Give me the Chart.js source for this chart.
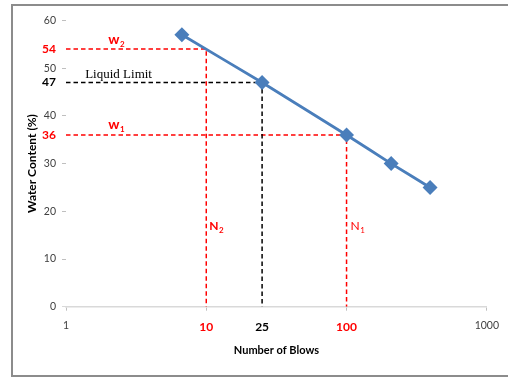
<!DOCTYPE html>
<html>
<head>
<meta charset="utf-8">
<script src="https://cdn.jsdelivr.net/npm/chart.js@4"></script>
<style>
  html, body { margin: 0; padding: 0; background: #fff; }
  #wrap { position: relative; width: 508px; height: 377px; }
  #frame {
    position: absolute; left: 11px; top: 4px; width: 497px; height: 373px;
    box-sizing: border-box;
    border-top: 2px solid #8c8c8c; border-left: 2px solid #8c8c8c; border-bottom: 2px solid #8c8c8c;
  }
  canvas { position: absolute; left: 0; top: 0; }
</style>
</head>
<body>
<div id="wrap">
  <div id="frame"></div>
  <canvas id="chart" width="508" height="377"></canvas>
</div>
<script>
// flow curve readings
const blows = [6.7, 25, 100, 208, 394];
const waterContent = [57, 47, 36, 30, 25];

const xTicks = [1, 10, 25, 100, 1000];
const yTicks = [0, 10, 20, 30, 36, 40, 47, 50, 54, 60];

// construction lines
const N2 = 10, W2 = 54;
const N_LL = 25, LL = 47;
const N1 = 100, W1 = 36;

const RED = '#ff0000';
const GREY_TXT = '#404040';

const plainFont = { family: 'Lato', size: 10.5 };
const boldFont = { family: 'Lato', size: 12, weight: 'bold' };

function tickVal(c) { return c && c.tick ? c.tick.value : null; }

function xTickStyle(v) {
  if (v === N2 || v === N1) return { color: RED, font: boldFont };
  if (v === N_LL) return { color: '#000', font: boldFont };
  return { color: GREY_TXT, font: plainFont };
}
function yTickStyle(v) {
  if (v === W2 || v === W1) return { color: RED, font: boldFont };
  if (v === LL) return { color: '#000', font: boldFont };
  return { color: GREY_TXT, font: plainFont };
}

function dashed(points, color) {
  return {
    data: points, showLine: true, borderColor: color, borderWidth: 1.5,
    borderDash: [4.5, 3], pointRadius: 0, tension: 0, order: 2
  };
}

// w1, w2, N1, N2 and "Liquid Limit" labels
const notes = {
  id: 'notes',
  afterDatasetsDraw(chart) {
    const { ctx, scales: { x, y } } = chart;
    ctx.save();
    ctx.textAlign = 'left';
    ctx.textBaseline = 'alphabetic';
    const withSub = (main, sub, px, py, color, bold, size) => {
      ctx.fillStyle = color;
      ctx.font = (bold ? 'bold ' : '') + size + 'px Lato';
      ctx.fillText(main, px, py);
      const w = ctx.measureText(main).width;
      ctx.font = (bold ? 'bold ' : '') + '8px Lato';
      ctx.fillText(sub, px + w + 0.5, py + 3);
    };
    withSub('w', '2', x.getPixelForValue(2), y.getPixelForValue(W2) - 5, RED, true, 14);
    withSub('w', '1', x.getPixelForValue(2), y.getPixelForValue(W1) - 6, RED, true, 14);
    withSub('N', '2', x.getPixelForValue(N2) + 3, y.getPixelForValue(16), RED, true, 12);
    withSub('N', '1', x.getPixelForValue(N1) + 4, y.getPixelForValue(16), RED, false, 12);
    ctx.fillStyle = '#000';
    ctx.font = '13px "Liberation Serif"';
    ctx.fillText('Liquid Limit', x.getPixelForValue(1.37), y.getPixelForValue(LL) - 5);
    ctx.restore();
  }
};

new Chart(document.getElementById('chart'), {
  type: 'scatter',
  data: {
    datasets: [
      {
        data: blows.map((b, i) => ({ x: b, y: waterContent[i] })),
        showLine: true, borderColor: '#4a7ebb', backgroundColor: '#4a7ebb',
        borderWidth: 2.8, pointStyle: 'rectRot', pointRadius: 5.5, tension: 0.1, order: 1
      },
      dashed([{ x: 1, y: W2 }, { x: N2, y: W2 }, { x: N2, y: 0 }], RED),
      dashed([{ x: 1, y: LL }, { x: N_LL, y: LL }, { x: N_LL, y: 0 }], '#000'),
      dashed([{ x: 1, y: W1 }, { x: N1, y: W1 }, { x: N1, y: 0 }], RED)
    ]
  },
  options: {
    responsive: false,
    animation: false,
    layout: { padding: { left: 12, top: 20.5, right: 21, bottom: 0 } },
    plugins: { legend: { display: false }, tooltip: { enabled: false } },
    scales: {
      x: {
        type: 'logarithmic', min: 1, max: 1000,
        afterBuildTicks: s => { s.ticks = xTicks.map(v => ({ value: v })); },
        afterFit: s => { s.height = 70.3; },
        border: { color: '#d9d9d9', width: 1.5 },
        grid: {
          drawOnChartArea: false, tickLength: 4,
          tickColor: c => tickVal(c) === N_LL ? 'transparent' : '#bfbfbf'
        },
        ticks: {
          autoSkip: false, maxRotation: 0, padding: 9,
          callback: v => String(v),
          color: c => xTickStyle(tickVal(c)).color,
          font: c => xTickStyle(tickVal(c)).font
        },
        title: {
          display: true, text: 'Number of Blows', color: '#000',
          font: { family: 'Lato', size: 11, weight: 'bold' },
          padding: { top: 0, bottom: 20.4 }
        }
      },
      y: {
        type: 'linear', min: 0, max: 60,
        afterBuildTicks: s => { s.ticks = yTicks.map(v => ({ value: v })); },
        afterFit: s => { s.width = 54; },
        border: { display: false },
        grid: {
          drawOnChartArea: false, tickLength: 4,
          tickColor: c => {
            const v = tickVal(c);
            if (v === W1 || v === W2 || v === LL) return 'transparent';
            return v === 0 ? '#d9d9d9' : '#bfbfbf';
          }
        },
        ticks: {
          autoSkip: false, padding: 6,
          callback: v => String(v),
          color: c => yTickStyle(tickVal(c)).color,
          font: c => yTickStyle(tickVal(c)).font
        },
        title: {
          display: true, text: 'Water Content (%)', color: '#000',
          font: { family: 'Lato', size: 12, weight: 'bold' },
          padding: { top: 12.8, bottom: 0 }
        }
      }
    }
  },
  plugins: [notes]
});
</script>
</body>
</html>
